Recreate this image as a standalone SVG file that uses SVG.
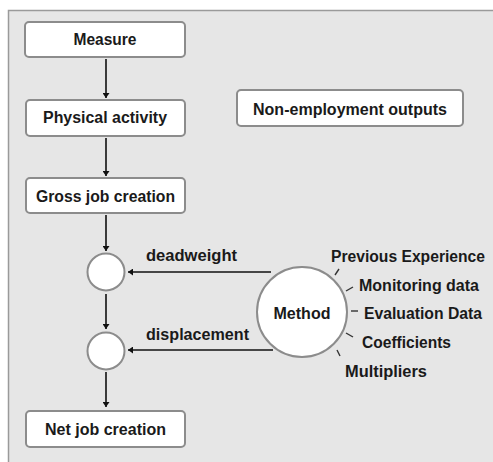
<svg xmlns="http://www.w3.org/2000/svg" width="493" height="462" viewBox="0 0 493 462">
  <defs>
    <marker id="ah" viewBox="0 0 10 10" refX="10" refY="5" markerWidth="5" markerHeight="7" markerUnits="userSpaceOnUse" orient="auto" preserveAspectRatio="none">
      <path d="M0,0 L10,5 L0,10 Z" fill="#111"/>
    </marker>
  </defs>
  <style>
    .box { fill: #ffffff; stroke: #8c8c8c; stroke-width: 2; }
    .circ { fill: #ffffff; stroke: #8c8c8c; stroke-width: 2; }
    .lbl { font-family: "Liberation Sans Narrow", "Liberation Sans", Arial, sans-serif; font-weight: bold; font-size: 16px; fill: #1a1a1a; }
    .conn { stroke: #111; stroke-width: 1.6; fill: none; }
    .tick { stroke: #333; stroke-width: 1.4; fill: none; }
  </style>
  <rect x="0" y="0" width="493" height="462" fill="#ffffff"/>
  <rect x="8.5" y="10.5" width="500" height="470" fill="#e6e6e6" stroke="#9a9a9a" stroke-width="1.5"/>

  <g id="connectors">
    <line class="conn" x1="106" y1="59" x2="106" y2="98" marker-end="url(#ah)"/>
    <line class="conn" x1="106" y1="138" x2="106" y2="176" marker-end="url(#ah)"/>
    <line class="conn" x1="106" y1="215" x2="106" y2="251" marker-end="url(#ah)"/>
    <line class="conn" x1="106" y1="294" x2="106" y2="329" marker-end="url(#ah)"/>
    <line class="conn" x1="106" y1="372" x2="106" y2="407" marker-end="url(#ah)"/>
    <line class="conn" x1="271" y1="272" x2="128" y2="272" marker-end="url(#ah)"/>
    <line class="conn" x1="273" y1="350" x2="128" y2="350" marker-end="url(#ah)"/>
    <text class="lbl" x="146" y="261" textLength="91" lengthAdjust="spacingAndGlyphs">deadweight</text>
    <text class="lbl" x="146" y="340" textLength="103" lengthAdjust="spacingAndGlyphs">displacement</text>
  </g>

  <g id="measure">
    <rect class="box" x="25" y="22" width="160" height="35" rx="4"/>
    <text class="lbl" x="105" y="45" text-anchor="middle" textLength="63" lengthAdjust="spacingAndGlyphs">Measure</text>
  </g>
  <g id="physical-activity">
    <rect class="box" x="26" y="100" width="159" height="36" rx="4"/>
    <text class="lbl" x="105" y="123" text-anchor="middle" textLength="124" lengthAdjust="spacingAndGlyphs">Physical activity</text>
  </g>
  <g id="gross-job-creation">
    <rect class="box" x="26" y="178" width="159" height="35" rx="4"/>
    <text class="lbl" x="105.5" y="202" text-anchor="middle" textLength="139" lengthAdjust="spacingAndGlyphs">Gross job creation</text>
  </g>
  <g id="non-employment-outputs">
    <rect class="box" x="237" y="90" width="226" height="36" rx="4"/>
    <text class="lbl" x="350" y="115" text-anchor="middle" textLength="194" lengthAdjust="spacingAndGlyphs">Non-employment outputs</text>
  </g>
  <g id="deadweight-node">
    <circle class="circ" cx="106" cy="272" r="18.5"/>
  </g>
  <g id="displacement-node">
    <circle class="circ" cx="106" cy="351" r="18.5"/>
  </g>
  <g id="net-job-creation">
    <rect class="box" x="26" y="411" width="159" height="36" rx="4"/>
    <text class="lbl" x="105.5" y="435" text-anchor="middle" textLength="121" lengthAdjust="spacingAndGlyphs">Net job creation</text>
  </g>
  <g id="method">
    <circle class="circ" cx="302" cy="312" r="45"/>
    <text class="lbl" x="302" y="319" text-anchor="middle" textLength="57" lengthAdjust="spacingAndGlyphs">Method</text>
    <line class="tick" x1="335" y1="275" x2="339" y2="269"/>
    <line class="tick" x1="346" y1="291" x2="353" y2="287"/>
    <line class="tick" x1="351" y1="311" x2="358" y2="311"/>
    <line class="tick" x1="346" y1="333" x2="353" y2="337"/>
    <line class="tick" x1="337" y1="350" x2="340" y2="356"/>
    <text class="lbl" x="331" y="262" textLength="154" lengthAdjust="spacingAndGlyphs">Previous Experience</text>
    <text class="lbl" x="359" y="291" textLength="120" lengthAdjust="spacingAndGlyphs">Monitoring data</text>
    <text class="lbl" x="364" y="319" textLength="118" lengthAdjust="spacingAndGlyphs">Evaluation Data</text>
    <text class="lbl" x="362" y="348" textLength="89" lengthAdjust="spacingAndGlyphs">Coefficients</text>
    <text class="lbl" x="345" y="377" textLength="82" lengthAdjust="spacingAndGlyphs">Multipliers</text>
  </g>
</svg>
